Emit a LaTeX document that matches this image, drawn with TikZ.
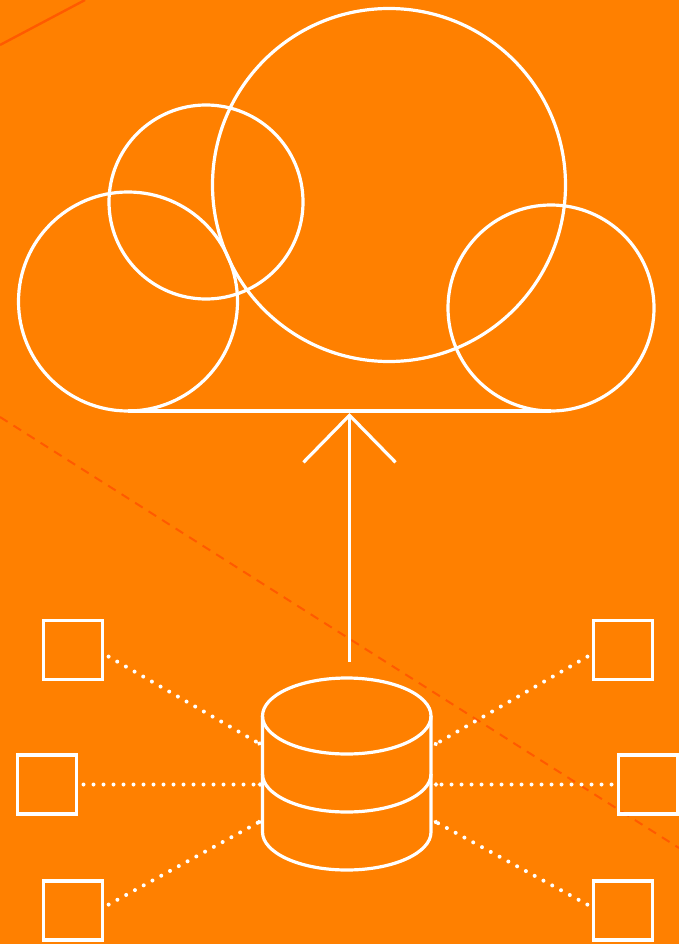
\documentclass[tikz,border=0pt]{standalone}
\usetikzlibrary{arrows.meta,shapes.geometric}
\definecolor{bgorange}{HTML}{FF8000}
\definecolor{streak}{HTML}{FF5A00}
\tikzset{
  every node/.style={inner sep=0pt, outer sep=0pt},
  whiteline/.style={draw=white, line width=3.2pt},
  blob/.style={circle, whiteline},
  client/.style={rectangle, draw=white, line width=3.8pt, minimum size=59pt},
  dotline/.style={draw=white, line width=4pt, line cap=round, dash pattern=on 0pt off 10pt, shorten <=7pt, -{Circle[length=4pt, width=4pt]}},
  streakline/.style={draw=streak, line width=2.4pt},
}

\begin{document}
\begin{tikzpicture}[x=1pt, y=-1pt]
  \useasboundingbox (0,0) rectangle (679,944);
  \fill[bgorange] (0,0) rectangle (679,944);

  \draw[streakline] (0,45) -- (85,0);
  \draw[streakline, line width=2pt, dash pattern=on 9pt off 7pt] (0,417) -- (679,848);

  % cloud
  \node[blob, minimum size=353pt] (bigblob) at (389,185) {};
  \node[blob, minimum size=194pt] (topblob) at (206,202) {};
  \node[blob, minimum size=219pt] (leftblob) at (128,301.5) {};
  \node[blob, minimum size=206pt] (rightblob) at (551,308) {};
  \draw[whiteline] (leftblob.south) -- (rightblob.south);

  % upload arrow
  \coordinate (tail) at (349.5,662);
  \coordinate (tip) at (349.5,413);
  \draw[whiteline, -{Straight Barb[length=47pt, width=92pt]}] (tail) -- (tip);

  % database
  \node[ellipse, whiteline, minimum width=168.5pt, minimum height=76pt] (dbtop) at (346.75,716) {};
  \draw[whiteline] (dbtop.west) -- (262.5,832) arc[start angle=180, end angle=0, x radius=84.25, y radius=38] -- (dbtop.east);
  \draw[whiteline] (262.5,774) arc[start angle=180, end angle=0, x radius=84.25, y radius=38];

  % clients
  \node[client] (lefttop) at (73,650) {};
  \node[client] (leftmid) at (47,784.5) {};
  \node[client] (leftlow) at (73,910.5) {};
  \node[client] (righttop) at (623,650) {};
  \node[client] (rightmid) at (648,784.5) {};
  \node[client] (rightlow) at (623,910.5) {};

  \coordinate (dbwtop) at (261,744.5);
  \coordinate (dbwmid) at (262,784.5);
  \coordinate (dbwlow) at (261,821);
  \coordinate (dbetop) at (434,745);
  \coordinate (dbemid) at (434,784.5);
  \coordinate (dbelow) at (434,821);

  \draw[dotline] (lefttop.-6) -- (dbwtop);
  \draw[dotline] (leftmid.east) -- (dbwmid);
  \draw[dotline] (leftlow.5) -- (dbwlow);
  \draw[dotline] (righttop.186) -- (dbetop);
  \draw[dotline] (rightmid.west) -- (dbemid);
  \draw[dotline] (rightlow.175) -- (dbelow);
\end{tikzpicture}
\end{document}
